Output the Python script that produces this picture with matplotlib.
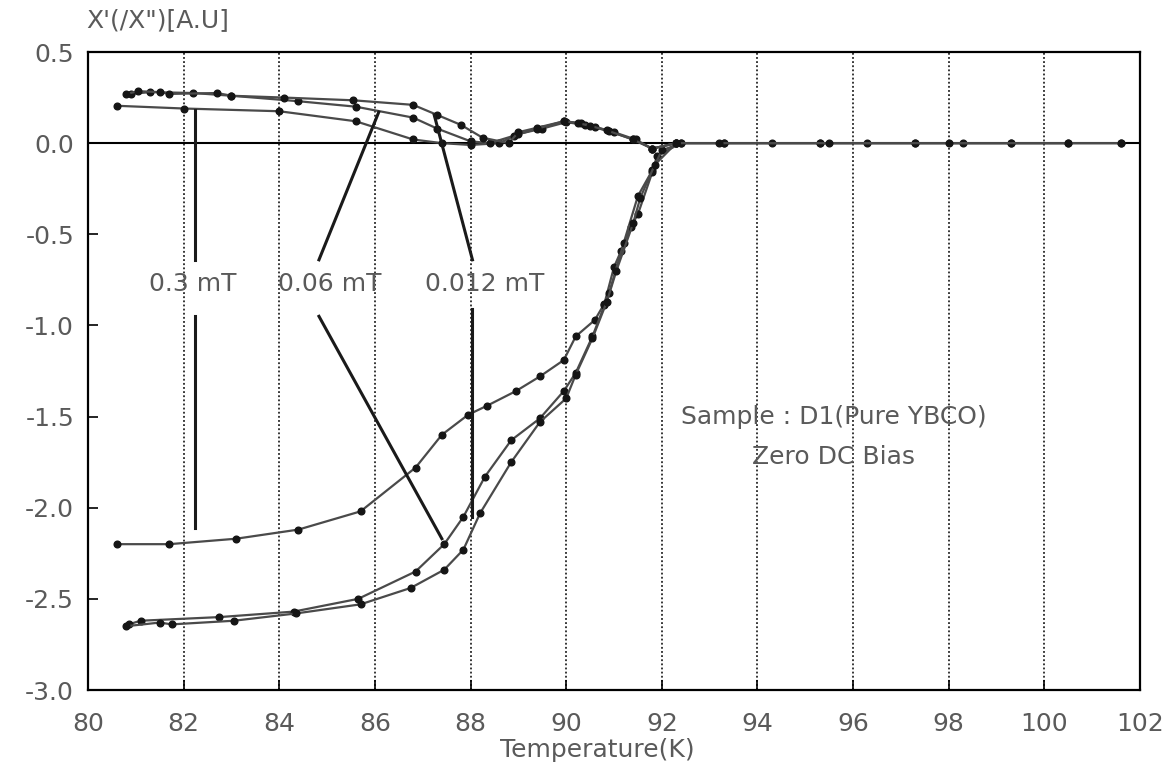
import matplotlib
matplotlib.use("Agg")
import matplotlib.pyplot as plt

plt.rcParams['font.family'] = ['DejaVu Sans']
plt.rcParams['axes.unicode_minus'] = False

# ---- chi' (real part) ----
T_re_03 = [80.6, 81.7, 83.1, 84.4, 85.7, 86.85, 87.4, 87.95, 88.35, 88.95, 89.45, 89.95,
           90.2, 90.6, 90.8, 91.0, 91.15, 91.35, 91.5, 91.8, 91.9, 92.4, 93.3, 94.3,
           95.3, 96.3, 97.3, 98.3, 99.3, 100.5, 101.6]
V_re_03 = [-2.20, -2.20, -2.17, -2.12, -2.02, -1.78, -1.60, -1.49, -1.44, -1.36, -1.28, -1.19,
           -1.06, -0.97, -0.88, -0.68, -0.59, -0.46, -0.39, -0.16, -0.07, 0.0, 0.0, 0.0,
           0.0, 0.0, 0.0, 0.0, 0.0, 0.0, 0.0]

T_re_006 = [80.85, 81.1, 82.75, 84.3, 85.65, 86.85, 87.45, 87.85, 88.3, 88.85, 89.45, 89.95,
            90.2, 90.55, 90.8, 90.9, 91.2, 91.5, 91.8, 92.0, 92.4, 93.3, 95.3, 97.3, 99.3, 101.6]
V_re_006 = [-2.64, -2.62, -2.60, -2.57, -2.50, -2.35, -2.20, -2.05, -1.83, -1.63, -1.51, -1.36,
            -1.26, -1.06, -0.89, -0.82, -0.55, -0.29, -0.15, -0.04, 0.0, 0.0, 0.0, 0.0, 0.0, 0.0]

T_re_0012 = [80.8, 81.5, 81.75, 83.05, 84.35, 85.7, 86.75, 87.45, 87.85, 88.2, 88.85, 89.45,
             90.0, 90.2, 90.55, 90.85, 91.05, 91.4, 91.55, 91.85, 92.3, 93.2, 95.5, 98.0,
             100.5]
V_re_0012 = [-2.65, -2.63, -2.64, -2.62, -2.58, -2.53, -2.44, -2.34, -2.23, -2.03, -1.75, -1.53,
             -1.40, -1.27, -1.07, -0.87, -0.70, -0.44, -0.30, -0.12, 0.0, 0.0, 0.0, 0.0,
             0.0]

# ---- chi'' (imaginary part) ----
T_im_03 = [80.6, 82.0, 84.0, 85.6, 86.8, 87.4, 88.0, 88.6, 89.0, 89.5, 90.0, 90.4, 90.9,
           91.4, 91.8, 92.3]
V_im_03 = [0.205, 0.19, 0.175, 0.12, 0.02, 0.0, -0.01, 0.0, 0.05, 0.08, 0.115, 0.10, 0.065,
           0.02, -0.03, 0.0]

T_im_006 = [80.9, 81.3, 82.2, 83.0, 84.4, 85.6, 86.8, 87.3, 88.0, 88.4, 88.9, 89.4, 89.95,
            90.3, 90.6, 91.0, 91.45, 91.8, 92.3]
V_im_006 = [0.27, 0.28, 0.275, 0.26, 0.23, 0.20, 0.14, 0.08, 0.01, 0.0, 0.04, 0.08, 0.12,
            0.11, 0.09, 0.06, 0.02, -0.03, 0.0]

T_im_0012 = [80.8, 81.05, 81.5, 81.7, 82.7, 83.0, 84.1, 85.55, 86.8, 87.3, 87.8, 88.25, 88.8,
             89.0, 89.4, 89.95, 90.25, 90.5, 90.85, 91.4, 91.8, 92.3]
V_im_0012 = [0.27, 0.285, 0.28, 0.27, 0.275, 0.26, 0.25, 0.235, 0.21, 0.155, 0.10, 0.03, 0.0,
             0.06, 0.085, 0.12, 0.11, 0.095, 0.07, 0.02, -0.03, 0.0]

x_ticks = [80, 82, 84, 86, 88, 90, 92, 94, 96, 98, 100, 102]
y_ticks = [0.5, 0.0, -0.5, -1.0, -1.5, -2.0, -2.5, -3.0]
grid_T = [82, 84, 86, 88, 90, 92, 94, 96, 98, 100]

field_labels = ["0.3 mT", "0.06 mT", "0.012 mT"]
label_pos = [(82.2, -0.77), (85.06, -0.77), (88.3, -0.77)]
# leader lines (from label to the curves)
leaders = [
    [(82.23, 0.18), (82.23, -0.64)], [(82.23, -0.95), (82.23, -2.11)],
    [(84.83, -0.64), (86.08, 0.17)], [(84.83, -0.95), (87.40, -2.17)],
    [(88.04, -0.64), (87.24, 0.155)], [(88.04, -0.91), (88.04, -2.05)],
]

TXT = '#5a5a5a'
FS = 18
fig = plt.figure(figsize=(11.68, 7.64), dpi=100)
ax = fig.add_axes([88 / 1168, 1 - 690 / 764, (1140 - 88) / 1168, (690 - 52) / 764])
ax.set_xlim(80, 102)
ax.set_ylim(-3.0, 0.5)

for g in grid_T:
    ax.axvline(g, color='black', lw=1.1, ls=(0, (1.2, 1.5)), zorder=1)
ax.axhline(0.0, color='black', lw=1.5, zorder=2)

line_kw = dict(color='#4a4a4a', lw=1.6, marker='o', ms=4.8, mfc='#151515',
               mec='#151515', zorder=3)
for T, V in [(T_re_03, V_re_03), (T_re_006, V_re_006), (T_re_0012, V_re_0012),
             (T_im_03, V_im_03), (T_im_006, V_im_006), (T_im_0012, V_im_0012)]:
    ax.plot(T, V, **line_kw)

for seg in leaders:
    (x0, y0), (x1, y1) = seg
    ax.plot([x0, x1], [y0, y1], color='#1a1a1a', lw=2.2, zorder=4)

for lab, (x, y) in zip(field_labels, label_pos):
    ax.text(x, y, lab, ha='center', va='center', fontsize=FS, color=TXT, zorder=5)

ax.text(95.6, -1.5, "Sample : D1(Pure YBCO)", ha='center', va='center',
        fontsize=FS, color=TXT)
ax.text(95.6, -1.72, "Zero DC Bias", ha='center', va='center',
        fontsize=FS, color=TXT)

ax.set_xticks(x_ticks)
ax.set_xticklabels([str(t) for t in x_ticks])
ax.set_yticks(y_ticks)
ax.set_yticklabels(['%.1f' % v for v in y_ticks])
ax.tick_params(axis='both', direction='in', length=7, width=1.2, labelsize=FS,
               labelcolor=TXT, color='black')
ax.tick_params(axis='x', pad=16)
ax.tick_params(axis='y', pad=10)
for s in ax.spines.values():
    s.set_linewidth(1.6)
    s.set_color('black')

fig.text(597 / 1168, 1 - 750 / 764, "Temperature(K)", fontsize=FS, color=TXT,
         ha='center', va='center')
fig.text(86 / 1168, 1 - 20 / 764, "X'(/X\")[A.U]", fontsize=FS, color=TXT,
         ha='left', va='center')

fig.savefig("out.png", dpi=100, facecolor='white')
